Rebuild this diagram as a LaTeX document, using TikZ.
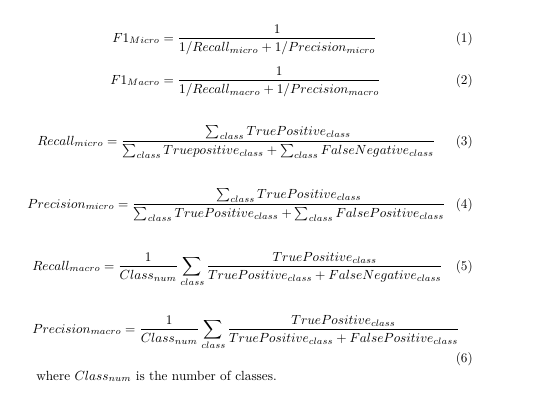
\documentclass[tikz,border=0pt]{standalone}
\usepackage{amssymb}
\usepackage{amsmath}
\usepackage{tikz}
\usetikzlibrary{positioning}
\tikzset{
  eqn/.style={anchor=base west,inner sep=0pt},
  eqtag/.style={anchor=base east,inner sep=0pt}
}

\begin{document}
\begin{tikzpicture}[x=0.755pt,y=-0.755pt]
\useasboundingbox (0,0) rectangle (534,406);
% F1 scores
\node[eqn] (fmicro) at (112,42) {$\displaystyle F1_{Micro}=\frac{1}{1/Recall_{micro}+1/Precision_{micro}}$};
\node[eqtag] (tag1) at (473,42) {(1)};
\node[eqn] (fmacro) at (110,84) {$\displaystyle F1_{Macro}=\frac{1}{1/Recall_{macro}+1/Precision_{macro}}$};
\node[eqtag] (tag2) at (473,84) {(2)};
% micro averages
\node[eqn] (rmicro) at (37,145) {$\displaystyle Recall_{micro}=\frac{\sum_{class}TruePositive_{class}}{\sum_{class}Truepositive_{class}+\sum_{class}FalseNegative_{class}}$};
\node[eqtag] (tag3) at (473,145) {(3)};
\node[eqn] (pmicro) at (27,208) {$\displaystyle Precision_{micro}=\frac{\sum_{class}TruePositive_{class}}{\sum_{class}TruePositive_{class}+\sum_{class}FalsePositive_{class}}$};
\node[eqtag] (tag4) at (473,208) {(4)};
% macro averages
\node[eqn] (rmacro) at (32,270) {$\displaystyle Recall_{macro}=\frac{1}{Class_{num}}\sum_{class}\frac{TruePositive_{class}}{TruePositive_{class}+FalseNegative_{class}}$};
\node[eqtag] (tag5) at (473,270) {(5)};
\node[eqn] (pmacro) at (32,333) {$\displaystyle Precision_{macro}=\frac{1}{Class_{num}}\sum_{class}\frac{TruePositive_{class}}{TruePositive_{class}+FalsePositive_{class}}$};
\node[eqtag] (tag6) at (473,362) {(6)};
\node[eqn] (where) at (36,380) {where $Class_{num}$ is the number of classes.};
\end{tikzpicture}
\end{document}
